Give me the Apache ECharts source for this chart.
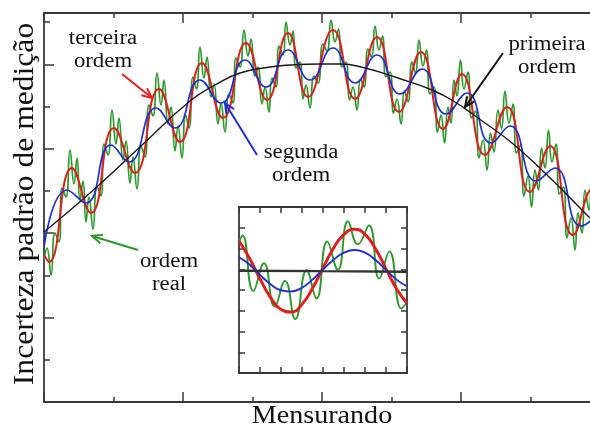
<!DOCTYPE html>
<html><head><meta charset="utf-8">
<script src="https://cdn.jsdelivr.net/npm/echarts@6/dist/echarts.min.js"></script>
<style>html,body{margin:0;padding:0;background:#fff}#c{width:590px;height:428px}</style>
</head><body><div id="c"></div>
<script>
// Main plot (arbitrary units: Mensurando 0..556, Incerteza 0..389)
const primeiraOrdem = [[0,170],[46,209],[96,255],[146,301],[171,317],[196,329],[226,335],[246,337],[276,338],[296,338],[321,334],[354,324],[388,312],[411,300],[434,284],[468,259],[501,229],[541,189],[556,174]];
const segundaOrdem = [[0,155],[23,212],[42,199],[67,257],[85,240],[112,294],[131,274],[156,322],[177,299],[201,342],[222,315],[244,352],[266,322],[289,354],[311,319],[333,347],[356,308],[378,333],[402,288],[423,309],[447,259],[466,276],[492,221],[511,234],[537,176],[556,190]];
const terceiraOrdem = [[0,147],[5,140],[28,234],[47,189],[70,274],[91,229],[115,313],[136,260],[158,339],[179,284],[202,359],[223,302],[244,369],[264,305],[289,372],[311,303],[333,365],[355,290],[377,350],[399,273],[418,328],[441,247],[463,295],[486,210],[506,256],[529,167],[550,214],[556,207]];
const ordemReal = [[0,142],[3,154],
[7,127],[11,169],[15,160],[18,214],[22,205],[26,252],
[30,218],[33,244],[36,202],[39,221],[42,180],[45,205],
[49,173],[53,216],[57,206],[60,258],[64,247],[68,292],
[72,258],[75,284],[79,242],[82,261],[86,219],[89,245],
[93,213],[97,256],[101,245],[105,297],[109,286],[113,329],
[117,297],[120,322],[124,278],[127,295],[131,251],[134,276],
[138,244],[141.5,287],[145,274],[149,325],[152.5,313],[156,355],
[160,324],[163,345],[167,305],[170,318],[174,278],[177,299],
[181,270],[185,308],[189,299],[192,344],[196,335],[200,372],
[204,346],[207,363],[211,326],[214,335],[218,298],[221,315],
[225,290],[228,324],[232,315],[235,356],[239,347],[242,380],
[246,357],[249,371],[252,334],[256,340],[259,303],[262,317],
[266,294],[270,326],[274,319],[279,358],[283,351],[287,382],
[291,360],[294.5,373],[298,335],[302,340],[305.5,302],[309,315],
[313,292],[316.5,323],[320,315],[324,353],[327.5,345],[331,376],
[335,352],[338.5,366],[342,325],[346,330],[349.5,289],[353,303],
[357,278],[360.5,311],[364,300],[368,340],[371.5,329],[375,362],
[379,336],[382.5,352],[386,308],[390,315],[393.5,270],[397,287],
[400.5,259],[404,295],[407,279],[410,322],[413,306],[416.5,342],
[420,313],[424,330],[427.5,284],[431.5,291],[435,244],[439,262],
[443,232],[446.5,269],[450,250],[454,292],[457.5,273],[461,311],
[465,279],[469,298],[472.5,249],[476.5,257],[480,206],[484,226],
[487.5,195],[491,232],[494.5,212],[497.5,254],[501,234],[504.5,272],
[508,240],[512,258],[515.5,208],[519.5,215],[523,164],[527,184],
[531,152],[534,189],[538,169],[541,212],[545,192],[548,229],
[552,199],[555,225],[556,222]];

// Inset (units 0..8)
const insetPrimeira = [[0,4.93],[4,4.91],[8,4.88]];
const insetSegunda = [[0,5.58],[0.5,5.23],[1,4.73],[1.5,4.28],[2,3.99],[2.5,3.93],[3,4.11],[3.5,4.5],[4,4.99],[4.5,5.46],[5,5.8],[5.5,5.93],[6,5.8],[6.5,5.45],[7,4.97],[7.5,4.5],[8,4.18]];
const insetTerceira = [[0,6.36],[0.5,5.53],[1,4.54],[1.5,3.64],[2,3.06],[2.5,2.94],[3,3.31],[3.5,4.08],[4,5.06],[4.5,6.01],[5,6.68],[5.5,6.93],[6,6.68],[6.5,5.99],[7,5.02],[7.5,4.06],[8,3.36]];
const insetReal = [[0,6.31],[0.17,6.63],[0.68,3.95],[1.19,5.29],[1.7,3.2],[2.19,4.44],[2.68,2.6],[3.22,4.95],[3.69,3.59],[4.2,6.34],[4.71,4.98],[5.19,7.31],[5.66,6.2],[6.19,7.11],[6.68,4.55],[7.16,5.86],[7.73,3.11],[8,3.42]];

const AX = '#383838';
function xAx(grid, pos, max, interval, len, minor) {
  return {type:'value', gridIndex:grid, position:pos, min:0, max:max, interval:interval,
    axisLine:{show:true, onZero:false, lineStyle:{color:AX, width:1.8}},
    axisTick:{show:true, inside:true, length:len, lineStyle:{color:AX, width:1.5}},
    minorTick:{show:!!minor, splitNumber:2, length:5, lineStyle:{color:AX, width:1.5}},
    axisLabel:{show:false}, splitLine:{show:false}};
}
function yAx(grid, pos, max, interval, len, line) {
  return {type:'value', gridIndex:grid, position:pos, min:0, max:max, interval:interval,
    axisLine:{show:line, onZero:false, lineStyle:{color:AX, width:1.8}},
    axisTick:{show:true, inside:true, length:len, lineStyle:{color:AX, width:1.5}},
    axisLabel:{show:false}, splitLine:{show:false}};
}
function ln(name, data, xi, yi, color, w, z) {
  return {name, type:'line', data, xAxisIndex:xi, yAxisIndex:yi, smooth:0.5, showSymbol:false, symbol:'none',
    lineStyle:{color, width:w}, z, silent:true, clip:true};
}
function arrow(x1,y1,x2,y2,color){
  const a=Math.atan2(y2-y1,x2-x1), L=11, s=0.42;
  return [
    {type:'line', shape:{x1,y1,x2,y2}, style:{stroke:color, lineWidth:2}, z:50},
    {type:'polyline', shape:{points:[[x2-L*Math.cos(a-s), y2-L*Math.sin(a-s)],[x2,y2],[x2-L*Math.cos(a+s), y2-L*Math.sin(a+s)]]}, style:{stroke:color, lineWidth:2, fill:null}, z:50}
  ];
}
function label(txt, x, y, size, sx, rot){
  return {type:'text', x, y, rotation:rot||0, scaleX:sx, scaleY:1, z:60,
    style:{text:txt, fontFamily:'Liberation Serif', fontSize:size, lineHeight:Math.round(size*1.15), fill:'#111', align:'center', verticalAlign:'middle'}};
}

const chart = echarts.init(document.getElementById('c'), null, {renderer:'canvas'});
chart.setOption({
  animation:false,
  backgroundColor:'#fff',
  grid:[
    {left:44, top:13, width:556, height:389, outerBoundsMode:'none'},
    {left:239, top:207, width:168, height:166, show:true, backgroundColor:'#fff', borderWidth:0, outerBoundsMode:'none'}
  ],
  xAxis:[
    xAx(0,'bottom',556,139,10,true),
    xAx(0,'top',556,139,10,true),
    xAx(1,'bottom',8,1,6,false),
    xAx(1,'top',8,1,6,false)
  ],
  yAxis:[
    yAx(0,'left',389,84.4,10,true),
    yAx(0,'left',389,42.2,6,false),
    yAx(0,'right',389,84.4,10,true),
    yAx(0,'right',389,42.2,6,false),
    yAx(1,'left',8,1,6,true),
    yAx(1,'right',8,1,6,true)
  ],
  series:[
    ln('ordem real', ordemReal, 0, 0, '#2a9a2a', 1.7, 2),
    ln('terceira ordem', terceiraOrdem, 0, 0, '#e01e1e', 2.0, 3),
    ln('segunda ordem', segundaOrdem, 0, 0, '#1f2fd8', 1.7, 4),
    ln('primeira ordem', primeiraOrdem, 0, 0, '#1a1a1a', 1.4, 5),
    ln('real (detalhe)', insetReal, 2, 4, '#2a9a2a', 1.9, 2),
    ln('terceira (detalhe)', insetTerceira, 2, 4, '#e01e1e', 3.0, 3),
    ln('segunda (detalhe)', insetSegunda, 2, 4, '#1f2fd8', 1.9, 4),
    ln('primeira (detalhe)', insetPrimeira, 2, 4, '#333333', 2.4, 5)
  ],
  graphic:[
    label('Incerteza padrão de medição', 25, 204, 29, 1.09, Math.PI/2),
    label('Mensurando', 322, 416, 26, 1.08),
    label('terceira\nordem', 103, 50, 20, 1.14),
    label('primeira\nordem', 547, 56, 20, 1.14),
    label('segunda\nordem', 301, 164, 20, 1.14),
    label('ordem\nreal', 169, 273, 20, 1.14),
    ...arrow(122,74,152,98,'#e82020'),
    ...arrow(257,155,225,103,'#2030d0'),
    ...arrow(503,53,465,107,'#111111'),
    ...arrow(138,250,92,236,'#2a9a2a')
  ]
});
</script></body></html>
